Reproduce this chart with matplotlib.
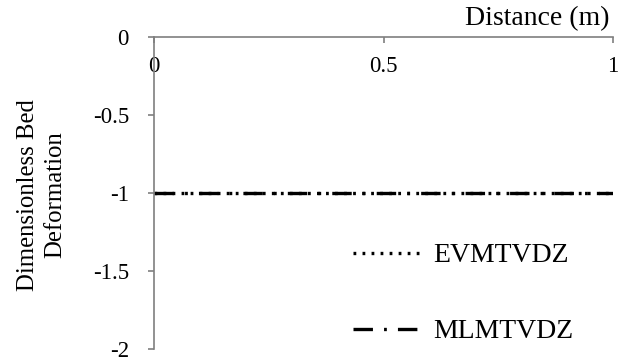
import numpy as np
import matplotlib
matplotlib.use("Agg")
import matplotlib.pyplot as plt

# bed deformation along the flume, both schemes
distance = [0.0, 0.1, 0.2, 0.3, 0.4, 0.5, 0.6, 0.7, 0.8, 0.9, 1.0]
evmtvdz = [-1, -1, -1, -1, -1, -1, -1, -1, -1, -1, -1]
mlmtvdz = [-1, -1, -1, -1, -1, -1, -1, -1, -1, -1, -1]

plt.rcParams['font.family'] = ['Liberation Serif', 'DejaVu Serif']
plt.rcParams['font.size'] = 16.5
plt.rcParams['lines.scale_dashes'] = False

fig = plt.figure(figsize=(6.27, 3.62), dpi=100)
ax = fig.add_axes([154/627, 1-349/362, (613-154)/627, (349-37)/362])

ax.plot(distance, evmtvdz, color='black', lw=2.4, linestyle=(0, (2, 4.5)),
        label='EVMTVDZ')
ax.plot(distance, mlmtvdz, color='black', lw=2.4, linestyle=(0, (14, 8, 2, 8)),
        label='MLMTVDZ')

ax.set_xlim(0, 1)
ax.set_ylim(-2, 0)
ax.set_xticks([0, 0.5, 1])
ax.set_xticklabels(['0', '0.5', '1'])
ax.set_yticks([0, -0.5, -1, -1.5, -2])
ax.set_yticklabels(['0', '-0.5', '-1', '-1.5', '-2'])

ax.spines['top'].set_visible(False)
ax.spines['right'].set_visible(False)
ax.spines['bottom'].set_position(('data', 0))
for s in ['left', 'bottom']:
    ax.spines[s].set_color('#7f7f7f')
    ax.spines[s].set_linewidth(1.2)
ax.tick_params(axis='both', direction='out', length=4, width=1.2,
               color='#7f7f7f', labelcolor='black')
ax.tick_params(axis='x', pad=10)
ax.tick_params(axis='y', pad=14)

ax.text(0.992, 1.02, 'Distance (m)', transform=ax.transAxes,
        ha='right', va='bottom', fontsize=20)
fig.text(42/627, 1-195/362, 'Dimensionless Bed\nDeformation', rotation=90,
         ha='center', va='center', multialignment='center', linespacing=1.3,
         fontsize=17.8)

ax.legend(loc='lower left', bbox_to_anchor=(0.379, -0.065), frameon=False,
          fontsize=20, handlelength=2.6, handletextpad=0.3, labelspacing=1.82)

fig.savefig('out.png', dpi=100)
